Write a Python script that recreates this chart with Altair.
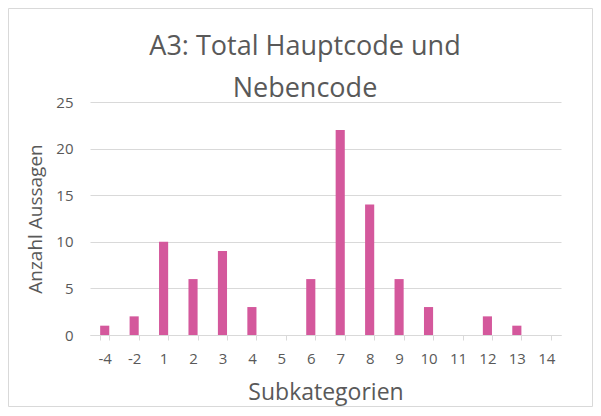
import altair as alt
import pandas as pd

categories = ["-4", "-2", "1", "2", "3", "4", "5", "6", "7", "8", "9", "10", "11", "12", "13", "14"]
values = [1, 2, 10, 6, 9, 3, 0, 6, 22, 14, 6, 3, 0, 2, 1, 0]
title_lines = ["A3: Total Hauptcode und", "Nebencode"]

df = pd.DataFrame({"Subkategorien": categories, "Anzahl": values})

FONT = "Open Sans"
GREY = "#595959"
LINE = "#d9d9d9"
W, H = 471, 233

bars = alt.Chart(df).mark_bar(color="#d4589c").encode(
    x=alt.X("Subkategorien:N", sort=categories,
            scale=alt.Scale(paddingInner=0.69, paddingOuter=0.345),
            axis=alt.Axis(title="Subkategorien", labelAngle=0, tickBand="extent",
                          domainColor=LINE, tickColor=LINE, tickSize=5, grid=False,
                          labelPadding=11, titlePadding=15, labelFontSize=15,
                          titleFontSize=23, titleFontWeight="normal")),
    y=alt.Y("Anzahl:Q", scale=alt.Scale(domain=[0, 25]),
            axis=alt.Axis(title="Anzahl Aussagen", values=[0, 5, 10, 15, 20, 25],
                          domain=False, ticks=False, gridColor=LINE,
                          labelPadding=17, titlePadding=10, labelFontSize=15,
                          titleFontSize=19, titleFontWeight="normal")),
)

border = alt.Chart(pd.DataFrame({"a": [0]})).mark_rect(
    fill=None, stroke=LINE, strokeWidth=1
).encode(
    x=alt.value(-81.5), x2=alt.value(W + 31.5),
    y=alt.value(-93.5), y2=alt.value(H + 71.5),
)

title1 = alt.Chart(pd.DataFrame({"t": [title_lines[0]]})).mark_text(
    font=FONT, fontSize=27, color=GREY, align="center", baseline="alphabetic"
).encode(text="t:N", x=alt.value(215), y=alt.value(-47))

title2 = alt.Chart(pd.DataFrame({"t": [title_lines[1]]})).mark_text(
    font=FONT, fontSize=27, color=GREY, align="center", baseline="alphabetic"
).encode(text="t:N", x=alt.value(215), y=alt.value(-5.5))

chart = alt.layer(border, bars, title1, title2).properties(
    width=W, height=H,
    autosize=alt.AutoSizeParams(type="none"),
    padding={"left": 82, "top": 94, "right": 32, "bottom": 73},
).configure_axis(
    labelFont=FONT, titleFont=FONT, labelColor=GREY, titleColor=GREY,
).configure_view(stroke=None)

chart.save("out.html", embed_options={"renderer": "svg", "actions": False})
